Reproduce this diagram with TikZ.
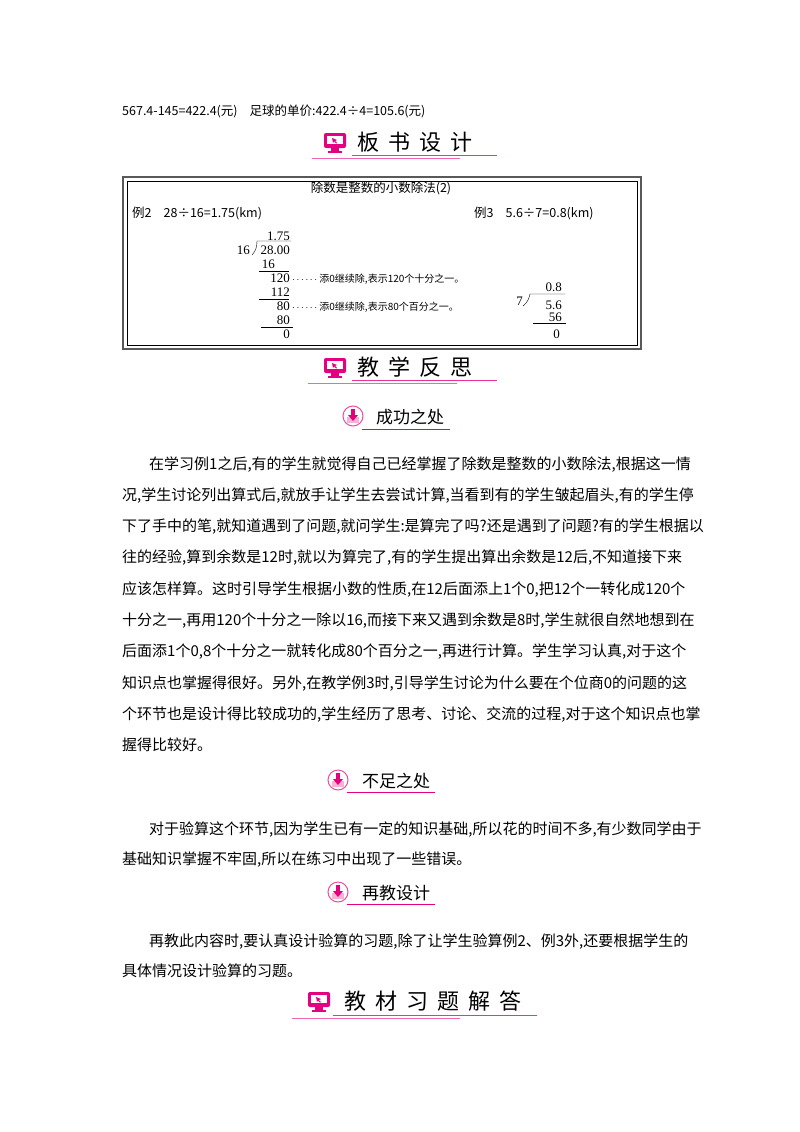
\documentclass[tikz,border=0pt]{standalone}
\usepackage{fontspec}
\setmainfont{Noto Sans CJK SC}
\newfontfamily\serifnum{Liberation Serif}
\definecolor{mag}{HTML}{E4007F}
\definecolor{lpink}{HTML}{F3B5D3}
\tikzset{
 body/.style={anchor=base west,inner sep=0pt,font=\fontsize{15}{15}\selectfont},
 brd/.style={inner sep=0pt,font=\fontsize{12.5}{12.5}\selectfont},
 num/.style={anchor=base east,inner sep=0pt,font=\serifnum\fontsize{13}{13}\selectfont},
 note/.style={anchor=base west,inner sep=0pt,font=\fontsize{10}{10}\selectfont},
 bighead/.style={anchor=base west,inner sep=0pt,font=\fontsize{22}{22}\selectfont},
 subhead/.style={anchor=base west,inner sep=0pt,font=\fontsize{17}{17}\selectfont},
}
\newcommand{\monicon}[2]{%
 \fill[mag,rounded corners=2pt] (#1-11,#2-8) rectangle (#1+11,#2+7);
 \fill[white] (#1-8,#2-5) rectangle (#1+8,#2+3);
 \fill[mag] (#1-4,#2+7) rectangle (#1+4,#2+10);
 \fill[mag] (#1-7,#2+10) rectangle (#1+7,#2+12);
 \fill[mag] (#1-3,#2-3) -- (#1+2,#2-1) -- (#1,#2) -- (#1+2,#2+2) -- (#1+1,#2+2.5) -- (#1-1,#2+0.5) -- (#1-2,#2+2) -- cycle;}
\newcommand{\circicon}[2]{%
 \draw[mag!70,line width=1pt,fill=white] (#1,#2) circle (10);
 \fill[lpink] (#1-6,#2+1) rectangle (#1+6,#2+7);
 \fill[mag] (#1-2,#2-7) rectangle (#1+2,#2-1);
 \fill[mag] (#1-5,#2-1) -- (#1+5,#2-1) -- (#1,#2+5) -- cycle;}
\begin{document}
\begin{tikzpicture}[x=1pt,y=-1pt]
\useasboundingbox (0,0) rectangle (800,1132);
\fill[white] (0,0) rectangle (800,1132);
\node[anchor=base west,inner sep=0pt,font=\fontsize{12.5}{12.5}\selectfont] (l1) at (122,115) {567.4-145=422.4(元)\hspace{12pt}足球的单价:422.4÷4=105.6(元)};
% heading 1
\monicon{335}{141}
\node[bighead] (h1) at (357,150) {板\hspace{9pt}书\hspace{9pt}设\hspace{9pt}计};
\draw[mag!80,line width=0.8pt] (352,155) -- (497,155);
\draw[mag!60,line width=0.8pt] (312,158) -- (460,158);
% board
\draw[gray!70!black,line width=2.5pt] (123,177) rectangle (641,349);
\draw[black,line width=0.5pt] (127,181) rectangle (637,345);
\node[brd,anchor=base] (bt) at (381,192) {除数是整数的小数除法(2)};
\node[brd,anchor=base west] (e2) at (132,217) {例2\hspace{12pt}28÷16=1.75(km)};
\node[brd,anchor=base west] (e3) at (474,217) {例3\hspace{12pt}5.6÷7=0.8(km)};
\node[num] (q1) at (290,240) {1.75};
\node[num] (d1) at (250,254) {16};
\node[num] (a1) at (290,254) {28.00};
\draw (252,255) .. controls (256,251) and (257,246) .. (257,241) -- (291,241);
\node[num] (s1) at (275,268) {16};
\draw (259,271) -- (289,271);
\node[num] (r1) at (290,282) {120};
\node[num] (s2) at (290,296) {112};
\draw (259,299) -- (289,299);
\node[num] (r2) at (290,310) {80};
\node[num] (s3) at (290,324) {80};
\draw (261,327) -- (293,327);
\node[num] (r3) at (290,338) {0};
\node[note] (n1) at (292,282) {$\cdots\cdots$ 添0继续除,表示120个十分之一。};
\node[note] (n2) at (292,310) {$\cdots\cdots$ 添0继续除,表示80个百分之一。};
\node[num] (q2) at (562,291) {0.8};
\node[num] (d2) at (523,305) {7};
\node[num] (a2) at (562,309) {5.6};
\draw (523,306) .. controls (528,302) and (529,298) .. (530,294) -- (565,294);
\node[num] (s4) at (562,321) {56};
\draw (533,323) -- (566,323);
\node[num] (r4) at (560,338) {0};
% heading 2
\monicon{335}{366}
\node[bighead] (h2) at (357,375) {教\hspace{9pt}学\hspace{9pt}反\hspace{9pt}思};
\draw[mag!80,line width=0.8pt] (352,380) -- (497,380);
\draw[mag!60,line width=0.8pt] (308,383) -- (457,383);
% sub 1
\circicon{353}{416}
\node[subhead] (sh1) at (376,423) {成功之处};
\draw[mag,line width=0.8pt] (362,429) -- (450,429);
\foreach \t [count=\i] in {%
{\hspace{27pt}在学习例1之后,有的学生就觉得自己已经掌握了除数是整数的小数除法,根据这一情},
{况,学生讨论列出算式后,就放手让学生去尝试计算,当看到有的学生皱起眉头,有的学生停},
{下了手中的笔,就知道遇到了问题,就问学生:是算完了吗?还是遇到了问题?有的学生根据以},
{往的经验,算到余数是12时,就以为算完了,有的学生提出算出余数是12后,不知道接下来},
{应该怎样算。这时引导学生根据小数的性质,在12后面添上1个0,把12个一转化成120个},
{十分之一,再用120个十分之一除以16,而接下来又遇到余数是8时,学生就很自然地想到在},
{后面添1个0,8个十分之一就转化成80个百分之一,再进行计算。学生学习认真,对于这个},
{知识点也掌握得很好。另外,在教学例3时,引导学生讨论为什么要在个位商0的问题的这},
{个环节也是设计得比较成功的,学生经历了思考、讨论、交流的过程,对于这个知识点也掌},
{握得比较好。}}
 \node[body] (p\i) at (122,{469+31.3*(\i-1)}) {\t};
% sub 2
\circicon{338}{780}
\node[subhead] (sh2) at (362,787) {不足之处};
\draw[mag,line width=0.8pt] (347,792) -- (435,792);
\node[body] (q1a) at (122,834) {\hspace{27pt}对于验算这个环节,因为学生已有一定的知识基础,所以花的时间不多,有少数同学由于};
\node[body] (q1b) at (122,864) {基础知识掌握不牢固,所以在练习中出现了一些错误。};
% sub 3
\circicon{338}{892}
\node[subhead] (sh3) at (362,899) {再教设计};
\draw[mag,line width=0.8pt] (347,904) -- (435,904);
\node[body] (q2a) at (122,946) {\hspace{27pt}再教此内容时,要认真设计验算的习题,除了让学生验算例2、例3外,还要根据学生的};
\node[body] (q2b) at (122,976) {具体情况设计验算的习题。};
% heading 3
\monicon{319}{1000}
\node[bighead] (h3) at (344,1009) {教\hspace{9pt}材\hspace{9pt}习\hspace{9pt}题\hspace{9pt}解\hspace{9pt}答};
\draw[mag!80,line width=0.8pt] (333,1015) -- (537,1015);
\draw[mag!60,line width=0.8pt] (292,1018) -- (460,1018);
\end{tikzpicture}
\end{document}
